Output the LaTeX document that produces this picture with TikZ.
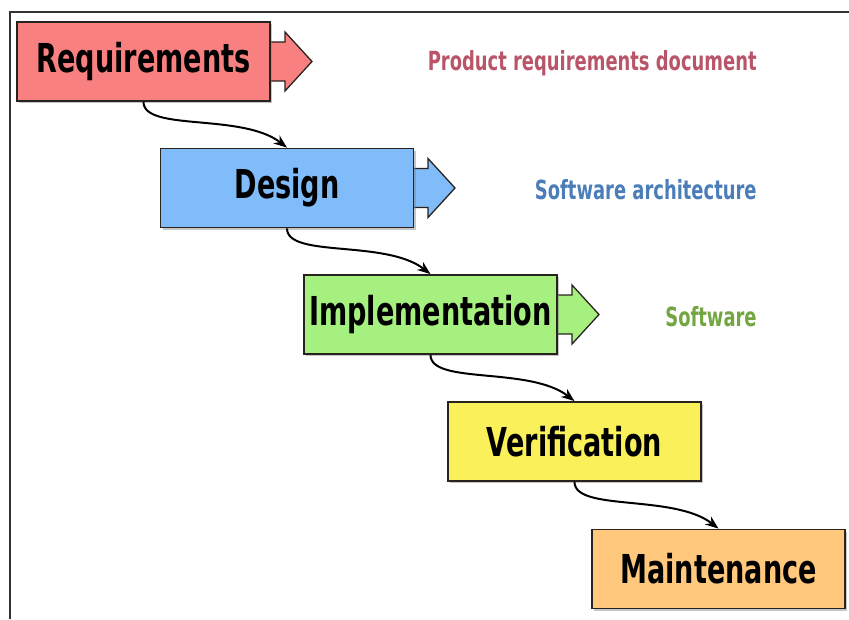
\documentclass[tikz,border=0pt]{standalone}
\usepackage{fontspec}
\usetikzlibrary{arrows.meta,shadows}

\newfontfamily\boxfont[FakeStretch=0.68]{DejaVu Sans}

\definecolor{reqred}{RGB}{248,128,128}
\definecolor{desblue}{RGB}{128,188,250}
\definecolor{impgreen}{RGB}{166,240,128}
\definecolor{veryellow}{RGB}{250,240,90}
\definecolor{maiorange}{RGB}{255,200,125}
\definecolor{prdtext}{RGB}{185,85,105}
\definecolor{archtext}{RGB}{75,125,185}
\definecolor{swtext}{RGB}{115,165,65}
\definecolor{boxline}{RGB}{40,35,30}

\begin{document}
\begin{tikzpicture}[
  x=0.03cm, y=-0.03cm,
  phase/.style={
    rectangle,
    draw=boxline,
    line width=1.5pt,
    minimum width=7.59cm,
    minimum height=2.37cm,
    inner sep=0pt,
    drop shadow={shadow xshift=2pt, shadow yshift=-2pt, opacity=0.45},
    font=\boxfont\bfseries\fontsize{34}{40}\selectfont
  },
  output/.style={
    anchor=east,
    inner sep=1pt,
    font=\boxfont\bfseries\fontsize{22.5}{26}\selectfont
  },
  sidearrow/.style={
    draw=boxline,
    line width=1.1pt,
    line join=miter
  },
  flow/.style={
    -{Stealth[length=4mm,width=3mm]},
    line width=1.7pt
  },
  frame/.style={
    draw=black!80,
    line width=1.4pt
  }
]

\path[use as bounding box] (0,0) rectangle (849,619);

\draw[frame] (10,619) -- (10,12) -- (849,12);

% side outputs (drawn first, boxes sit on top)
\foreach \cy/\cx/\c in {61.5/270/reqred, 188/413/desblue, 314.5/557/impgreen}
  \draw[sidearrow, fill=\c] (\cx-4,\cy-19.5) -- ++(19,0) -- ++(0,-10)
    -- ++(27,29.5) -- ++(-27,29.5) -- ++(0,-10) -- ++(-19,0) -- cycle;

\node[phase, fill=reqred]    (req) at (143.5,61.5) {Requirements};
\node[phase, fill=desblue]   (des) at (287,188)    {Design};
\node[phase, fill=impgreen]  (imp) at (430.5,314.5) {Implementation};
\node[phase, fill=veryellow] (ver) at (574.5,441.5) {Verification};
\node[phase, fill=maiorange] (mai) at (718.5,569)  {Maintenance};

\draw[flow] (req.south) .. controls +(0,30) and +(-45,-35) .. (des.north);
\draw[flow] (des.south) .. controls +(0,30) and +(-45,-35) .. (imp.north);
\draw[flow] (imp.south) .. controls +(0,30) and +(-45,-35) .. (ver.north);
\draw[flow] (ver.south) .. controls +(0,30) and +(-45,-35) .. (mai.north);

\node[output, text=prdtext]  (prd)  at (758,63)  {Product requirements document};
\node[output, text=archtext] (arch) at (758,190) {Software architecture};
\node[output, text=swtext]   (sw)   at (758,317) {Software};

\end{tikzpicture}
\end{document}
